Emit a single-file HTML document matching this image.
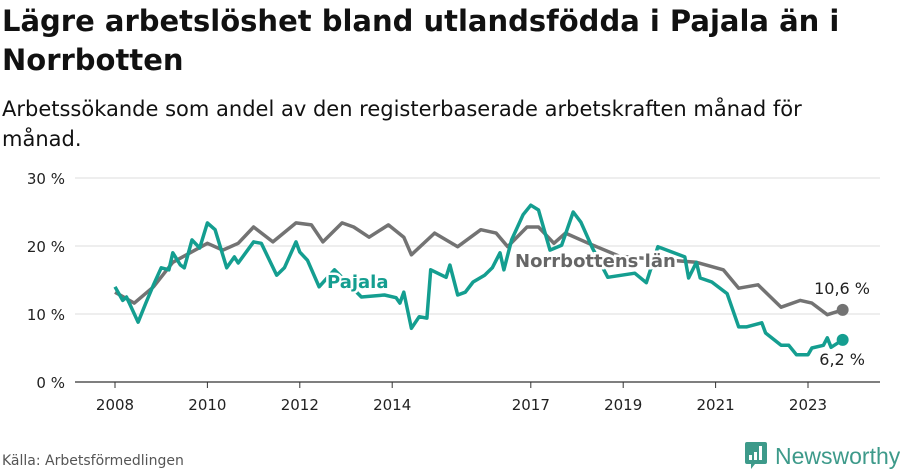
<!DOCTYPE html>
<html><head><meta charset="utf-8"><style>
body{margin:0;width:900px;height:474px;background:#fff;font-family:"DejaVu Sans","Liberation Sans",sans-serif;overflow:hidden;position:relative;color:#111}
#title{position:absolute;left:2px;top:2px;font-size:29px;font-weight:bold;line-height:39px;width:890px}
#sub{position:absolute;left:2px;top:94px;font-size:21px;line-height:30px;width:840px}
#src{position:absolute;left:2px;top:453px;font-size:14px;color:#555}
#logo{position:absolute;left:745px;top:442px;display:flex;align-items:center;font-size:23px;color:#3d9a8a;font-family:"Liberation Sans",sans-serif}
svg{position:absolute;left:0;top:0}
</style></head><body>
<div id="title">Lägre arbetslöshet bland utlandsfödda i Pajala än i Norrbotten</div>
<div id="sub">Arbetssökande som andel av den registerbaserade arbetskraften månad för månad.</div>
<svg id="chart" width="900" height="474"></svg>
<div id="src">Källa: Arbetsförmedlingen</div>
<div id="logo"><svg width="22" height="28" style="position:static;margin-right:8px" viewBox="0 0 22 28"><path d="M2 0h18a2 2 0 0 1 2 2v18a2 2 0 0 1-2 2H10l-4 5v-5H2a2 2 0 0 1-2-2V2a2 2 0 0 1 2-2z" fill="#3d9a8a"/><rect x="4" y="13" width="3" height="5" fill="#fff"/><rect x="9" y="10" width="3" height="8" fill="#fff"/><rect x="14" y="4" width="3" height="14" fill="#fff"/></svg>Newsworthy</div>
<script>
const yTicks=[0,10,20,30];
const xTickYears=[2008,2010,2012,2014,2017,2019,2021,2023];
const norrMonths=[0,5,10,15,24,28,32,36,41,47,51,54,59,62,66,71,75,77,83,89,95,99,102,107,110,114,117,123,131,142,151,158,162,167,173,178,181,185,189];
const norrValues=[13.2,11.6,14,17.6,20.4,19.4,20.4,22.8,20.6,23.4,23.1,20.6,23.4,22.8,21.3,23.1,21.3,18.7,21.9,19.9,22.4,21.9,19.9,22.8,22.8,20.4,21.9,20.4,18.5,18,17.6,16.5,13.8,14.3,11,12,11.6,9.9,10.6];
const pajMonths=[0,2,3,6,8,10,12,14,15,17,18,20,22,24,26,29,31,32,36,38,42,44,47,48,50,53,57,64,70,73,74,75,77,79,81,82,86,87,89,91,93,96,98,100,101,103,106,108,110,113,116,119,121,124,128,135,138,141,148,149,151,152,155,159,162,164,168,169,173,175,177,180,181,184,185,186,189];
const pajValues=[14,12,12.5,8.8,11.6,14.3,16.8,16.5,19,17.2,16.8,20.9,19.7,23.4,22.4,16.8,18.4,17.5,20.6,20.4,15.7,16.8,20.6,19.1,17.9,14,16.5,12.5,12.8,12.4,11.6,13.2,7.9,9.6,9.4,16.5,15.4,17.2,12.8,13.2,14.7,15.7,16.8,19,16.5,20.9,24.6,26,25.3,19.4,20.1,25,23.5,19.7,15.4,16,14.6,19.9,18.4,15.3,17.6,15.3,14.7,13,8.1,8.1,8.7,7.2,5.4,5.4,4,4,5,5.4,6.5,5.1,6.2];
const NS="http://www.w3.org/2000/svg";
const svg=document.getElementById('chart');
const x=m=>115+m*46.2/12;
const y=v=>382-v*6.8;
function mk(t,a,txt){const e=document.createElementNS(NS,t);for(const k in a)e.setAttribute(k,a[k]);if(txt!=null)e.textContent=txt;svg.appendChild(e);return e;}
yTicks.forEach(v=>{
 const g=mk('line',{x1:75,x2:880,y1:y(v),y2:y(v),stroke:v===0?'#333':'#ddd','stroke-width':v===0?1.2:1});
 
 
 const t=mk('text',{x:65,y:y(v)+6,'text-anchor':'end','font-size':15,fill:'#222'},v+' %');
 
 
});
xTickYears.forEach(yr=>{
 const xx=x((yr-2008)*12);
 const l=mk('line',{x1:xx,x2:xx,y1:382,y2:388,stroke:'#333'});
 
 
 const t=mk('text',{x:xx,y:410,'text-anchor':'middle','font-size':15,fill:'#222'},String(yr));
 
 
});
function line(ms,vs,col,name){
 const d=ms.map((m,i)=>(i?'L':'M')+x(m).toFixed(1)+','+y(vs[i]).toFixed(1)).join('');
 const p=mk('path',{d:d,fill:'none',stroke:col,'stroke-width':3.5,'stroke-linejoin':'round'});
 
 
 const n=ms.length-1;
 const c=mk('circle',{cx:x(ms[n]),cy:y(vs[n]),r:6,fill:col});
 
 
}
line(norrMonths,norrValues,'#737373','norrbotten');
line(pajMonths,pajValues,'#149e90','pajala');
function lab(tx,xx,yy,col,name,anchor,bold,fs){
 const t=mk('text',{x:xx,y:yy,'font-size':fs,'font-weight':bold?'bold':'normal',fill:col,stroke:'#fff','stroke-width':bold?5:0,'paint-order':'stroke','text-anchor':anchor||'start'},tx);
 
 
}
lab('Pajala',327,288,'#149e90','pajala-label','start',true,18);
lab('Norrbottens län',515,267,'#666','norrbotten-label','start',true,18);
const nn=norrValues.length-1,pn=pajValues.length-1;
lab(norrValues[nn].toFixed(1).replace('.',',')+' %',870,294,'#222','norrbotten-end-value','end',false,16);
lab(pajValues[pn].toFixed(1).replace('.',',')+' %',865,365,'#222','pajala-end-value','end',false,16);
</script>
</body></html>
